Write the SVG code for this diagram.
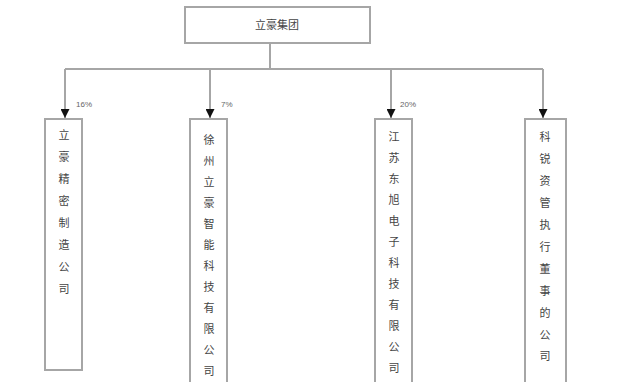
<svg xmlns="http://www.w3.org/2000/svg" width="625" height="382" viewBox="0 0 625 382">
<style>
.box{fill:#fff;stroke:#a6a6a6;stroke-width:2}
.ln{fill:none;stroke:#a6a6a6;stroke-width:2}
.t{font-family:"Noto Sans CJK SC","Liberation Sans",sans-serif;font-size:11px;fill:#444;text-anchor:middle}
.p{font-family:"Liberation Sans",sans-serif;font-size:8px;fill:#666}
</style>
<defs>
<marker id="ah" viewBox="0 0 10 10" refX="10" refY="5" markerWidth="9" markerHeight="9" markerUnits="userSpaceOnUse" orient="auto">
<path d="M0,0 L10,5 L0,10 Z" fill="#111"/>
</marker>
</defs>
<rect width="625" height="382" fill="#fff"/>
<g id="connectors">
<path class="ln" d="M270,43 V69"/>
<path class="ln" d="M65,69 H543"/>
<path class="ln" d="M65,69 V118" marker-end="url(#ah)"/>
<path class="ln" d="M210,69 V118" marker-end="url(#ah)"/>
<path class="ln" d="M391,69 V118" marker-end="url(#ah)"/>
<path class="ln" d="M543,69 V118" marker-end="url(#ah)"/>
<text class="p" x="76" y="107">16%</text>
<text class="p" x="221" y="107">7%</text>
<text class="p" x="400" y="107">20%</text>
</g>
<g id="top">
<rect class="box" x="185" y="7" width="185" height="36"/>
<text class="t" x="277" y="29">立豪集团</text>
</g>
<g id="n1">
<rect class="box" x="45" y="119" width="37" height="251"/>
<text class="t"><tspan x="64" y="139">立</tspan><tspan x="64" y="161">豪</tspan><tspan x="64" y="183">精</tspan><tspan x="64" y="205">密</tspan><tspan x="64" y="227">制</tspan><tspan x="64" y="249">造</tspan><tspan x="64" y="271">公</tspan><tspan x="64" y="293">司</tspan></text>
</g>
<g id="n2">
<rect class="box" x="190" y="119" width="37" height="270"/>
<text class="t"><tspan x="209" y="144">徐</tspan><tspan x="209" y="165">州</tspan><tspan x="209" y="186">立</tspan><tspan x="209" y="207">豪</tspan><tspan x="209" y="228">智</tspan><tspan x="209" y="249">能</tspan><tspan x="209" y="270">科</tspan><tspan x="209" y="291">技</tspan><tspan x="209" y="312">有</tspan><tspan x="209" y="333">限</tspan><tspan x="209" y="354">公</tspan><tspan x="209" y="375">司</tspan></text>
</g>
<g id="n3">
<rect class="box" x="375" y="119" width="37" height="270"/>
<text class="t"><tspan x="394" y="141">江</tspan><tspan x="394" y="162">苏</tspan><tspan x="394" y="183">东</tspan><tspan x="394" y="204">旭</tspan><tspan x="394" y="225">电</tspan><tspan x="394" y="246">子</tspan><tspan x="394" y="267">科</tspan><tspan x="394" y="288">技</tspan><tspan x="394" y="309">有</tspan><tspan x="394" y="330">限</tspan><tspan x="394" y="351">公</tspan><tspan x="394" y="372">司</tspan></text>
</g>
<g id="n4">
<rect class="box" x="525" y="119" width="41" height="270"/>
<text class="t"><tspan x="545" y="141">科</tspan><tspan x="545" y="163">锐</tspan><tspan x="545" y="185">资</tspan><tspan x="545" y="207">管</tspan><tspan x="545" y="229">执</tspan><tspan x="545" y="251">行</tspan><tspan x="545" y="273">董</tspan><tspan x="545" y="295">事</tspan><tspan x="545" y="317">的</tspan><tspan x="545" y="339">公</tspan><tspan x="545" y="360">司</tspan></text>
</g>
</svg>
